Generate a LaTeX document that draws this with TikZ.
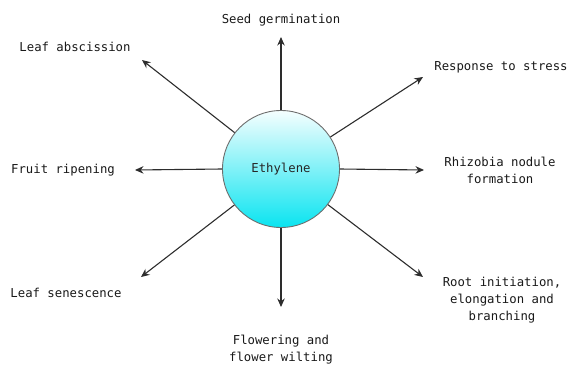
\documentclass[tikz,border=0pt]{standalone}
\usepackage{fontspec}
\setmonofont{DejaVu Sans Mono}
\usetikzlibrary{arrows.meta}
\definecolor{ecyan}{RGB}{10,228,240}
\definecolor{linegray}{RGB}{45,45,45}
\definecolor{rimgray}{RGB}{110,110,110}
\begin{document}
\begin{tikzpicture}[x=1pt,y=-1pt,
  lbl/.style={font=\ttfamily\fontsize{12.3}{17}\selectfont, align=center, text=black!90, inner sep=0pt},
  arr/.style={draw=linegray, line width=1.1pt, -{Stealth[length=8.5pt,width=7.5pt]}},
  hub/.style={circle, minimum size=117pt, inner sep=0pt, draw=rimgray, line width=0.9pt,
    top color=ecyan!4, bottom color=ecyan, font=\ttfamily\fontsize{12.3}{14}\selectfont, text=black!85}]
\useasboundingbox (0,0) rectangle (571,367);
\node[hub] (c) at (281,169) {Ethylene};
\coordinate (tN) at (281,37);
\coordinate (tNW) at (142,60);
\coordinate (tNE) at (423,77);
\coordinate (tE) at (424,170);
\coordinate (tW) at (135,170);
\coordinate (tSW) at (141,277);
\coordinate (tS) at (281,307);
\coordinate (tSE) at (423,277);
\draw[arr] (c) -- (tN);
\draw[arr] (c) -- (tNW);
\draw[arr] (c) -- (tNE);
\draw[arr] (c.east) -- (tE);
\draw[arr] (c.west) -- (tW);
\draw[arr] (c) -- (tSW);
\draw[arr] (c.south) -- (tS);
\draw[arr] (c) -- (tSE);
\node[lbl] (lN) at (281,20) {Seed germination};
\node[lbl] (lNW) at (75,47) {Leaf abscission};
\node[lbl] (lNE) at (501,67) {Response to stress};
\node[lbl] (lE) at (500,170) {Rhizobia nodule\\formation};
\node[lbl] (lW) at (63,170) {Fruit ripening};
\node[lbl] (lSW) at (66,293) {Leaf senescence};
\node[lbl] (lS) at (281,350) {Flowering and\\flower wilting};
\node[lbl] (lSE) at (502,300) {Root initiation,\\elongation and\\branching};
\end{tikzpicture}
\end{document}
